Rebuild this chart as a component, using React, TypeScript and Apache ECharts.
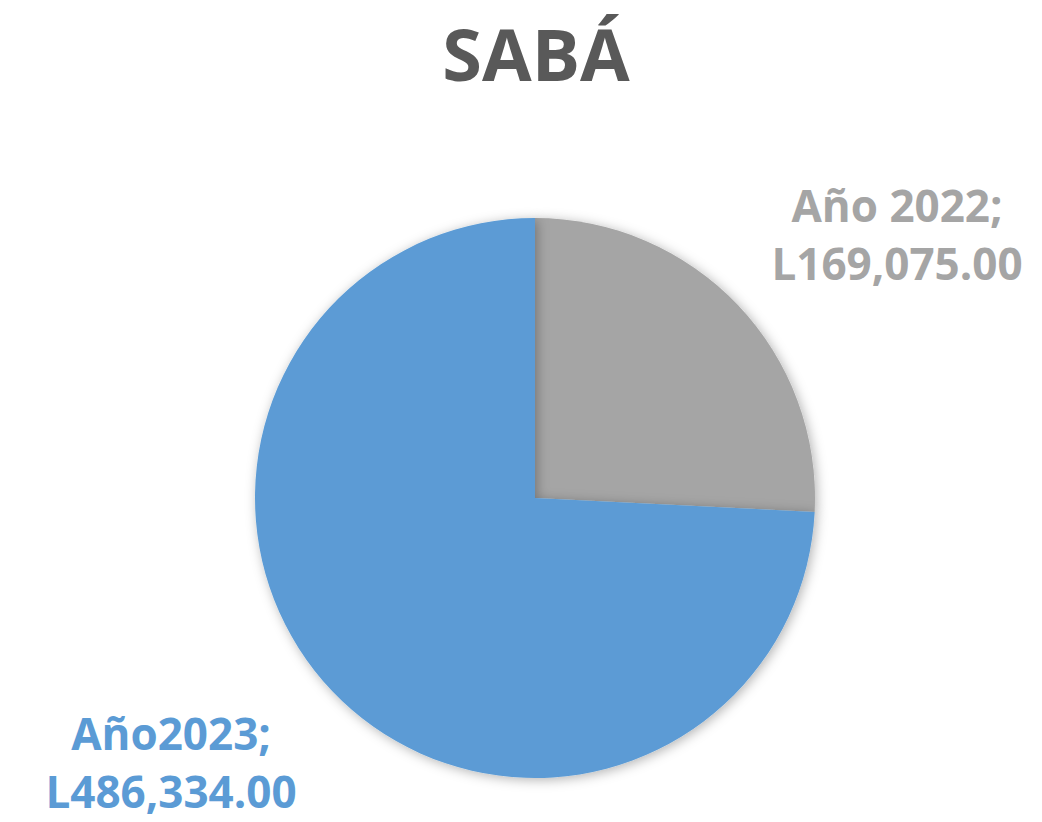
import React, { useEffect, useRef } from "react";
import * as echarts from "echarts";

const categories = ["Año 2022", "Año2023"];
const values = [169075.0, 486334.0];
const colors = ["#A5A5A5", "#5B9BD5"];
const titleText = "SABÁ";

const fmt = (v: number) =>
  "L" + v.toLocaleString("en-US", { minimumFractionDigits: 2, maximumFractionDigits: 2 });

export default function App() {
  const ref = useRef<HTMLDivElement>(null);
  useEffect(() => {
    if (!ref.current) return;
    const chart = echarts.init(ref.current, null, { renderer: "svg" });
    const labelPos = [
      { x: 897, y: 234 },
      { x: 171, y: 762 },
    ];
    chart.setOption({
      animation: false,
      backgroundColor: "#ffffff",
      title: {
        text: titleText,
        left: 531,
        textAlign: "center",
        top: 12,
        textStyle: {
          fontFamily: "Open Sans",
          fontWeight: "bold",
          fontSize: 72,
          color: "#595959",
        },
      },
      series: [
        {
          type: "pie",
          center: [535, 498],
          radius: 280,
          startAngle: 90,
          clockwise: true,
          itemStyle: {
            shadowBlur: 12,
            shadowColor: "rgba(0,0,0,0.3)",
            shadowOffsetX: 2,
            shadowOffsetY: 2,
          },
          label: {
            show: true,
            position: "outside",
            formatter: (p: any) => `${p.name};\n${fmt(p.value)}`,
            fontFamily: "Open Sans",
            fontWeight: "bold",
            fontSize: 44,
            lineHeight: 58,
            align: "center",
            overflow: "none",
            width: 400,
            color: "inherit",
          },
          labelLine: { show: false },
          labelLayout: (params: any) => ({
            x: labelPos[params.dataIndex].x,
            y: labelPos[params.dataIndex].y,
            align: "center",
            verticalAlign: "middle",
          }),
          data: categories.map((c, i) => ({
            name: c,
            value: values[i],
            itemStyle: { color: colors[i] },
            label: { color: colors[i] },
          })),
        },
      ],
    });
    return () => chart.dispose();
  }, []);
  return (
    <div
      ref={ref}
      style={{ position: "fixed", left: 0, top: 0, width: 1042, height: 822 }}
    />
  );
}
